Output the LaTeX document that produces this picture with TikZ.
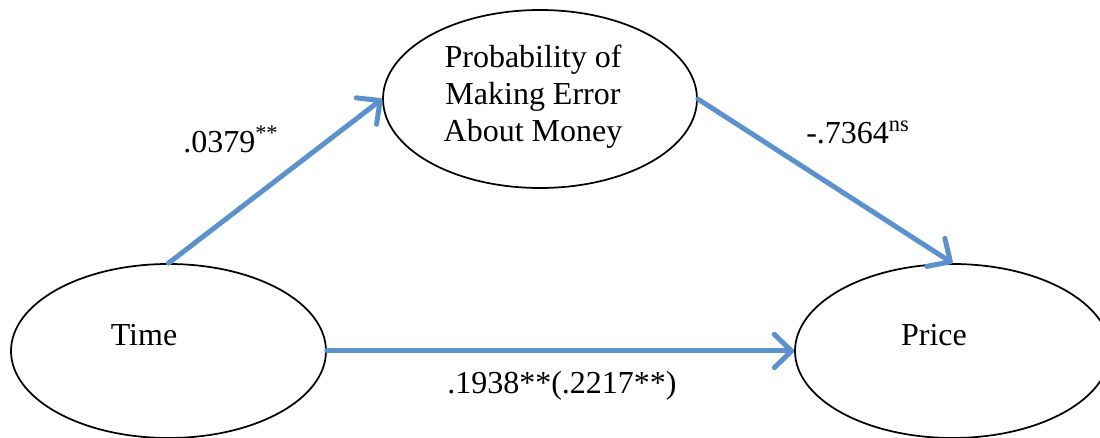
\documentclass[tikz,border=0pt]{standalone}
\usepackage{fontspec}
\setmainfont{Liberation Serif}
\usetikzlibrary{shapes.geometric,arrows.meta}
\definecolor{linkblue}{RGB}{91,146,206}
\begin{document}
\begin{tikzpicture}[x=0.75pt,y=-0.75pt,
  var/.style={draw=black, line width=1.3pt, ellipse, inner sep=0pt, fill=white},
  txt/.style={font=\fontsize{24}{27.75}\selectfont, inner sep=0pt},
  link/.style={draw=linkblue, line width=3.75pt, line cap=round,
    -{Straight Barb[length=13pt,width=25pt,line cap=round,line join=round]}}
]
\clip (0,0) rectangle (1100,438);
\useasboundingbox (0,0) rectangle (1100,438);

% latent variables
\node[var, minimum width=236.25pt, minimum height=130.5pt] (time)  at (168.5,351) {};
\node[var, minimum width=236.25pt, minimum height=130.5pt] (price) at (952.5,351) {};
\node[var, minimum width=235.5pt,  minimum height=133.5pt] (prob)  at (540,99) {};

% variable names
\node[txt, anchor=base] (timelbl)  at (144,345) {Time};
\node[txt, anchor=base] (pricelbl) at (934,345) {Price};
\node[txt, anchor=base, align=center] (problbl) at (533,142)
  {Probability of\\Making Error\\About Money};

% paths
\draw[link] (time.north) -- (prob.west);
\draw[link] (prob.east) -- (price.north);
\draw[link] (time.east) -- (price.west);

% coefficients
\node[txt, anchor=base west] (a) at (183,153) {.0379\textsuperscript{**}};
\node[txt, anchor=base west] (b) at (806,144) {-.7364\textsuperscript{ns}};
\node[txt, anchor=base west] (c) at (447,393) {.1938**(.2217**)};
\end{tikzpicture}
\end{document}
